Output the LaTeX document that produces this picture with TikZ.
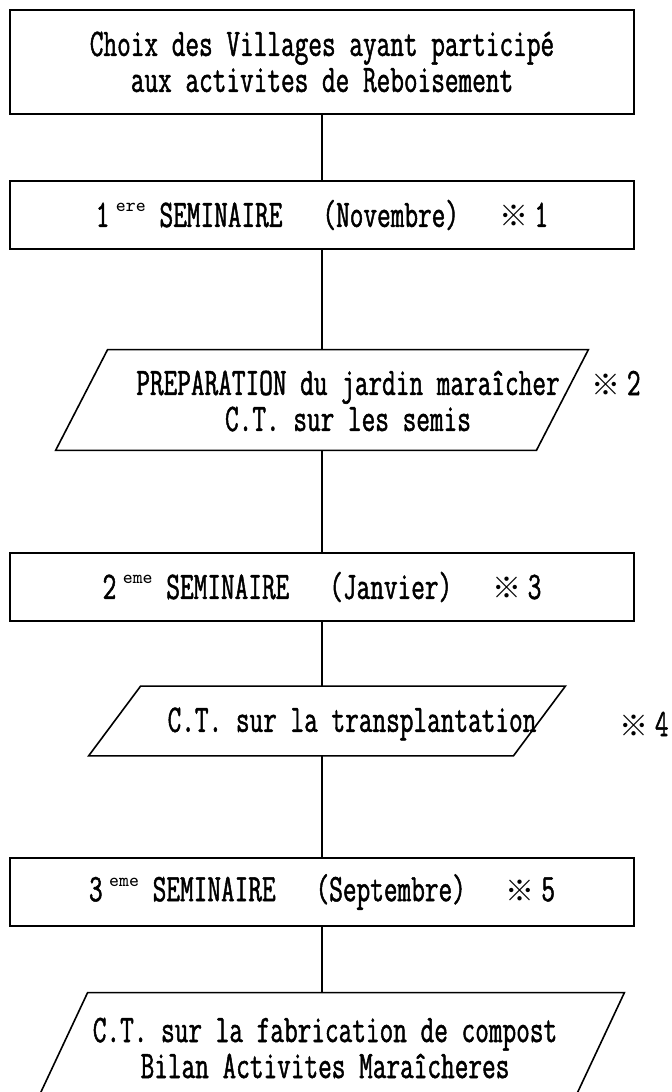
\documentclass[tikz,border=0pt]{standalone}
\usepackage{fontspec}
\newfontfamily\mono[FakeStretch=0.68,FakeBold=1.2]{Latin Modern Mono}
\newfontfamily\supmono{Latin Modern Mono}
\newfontfamily\cjk{Noto Sans CJK JP}
\usetikzlibrary{calc}
\newcommand{\ordsup}[1]{\,\raisebox{0.9ex}{\supmono\fontsize{9.5}{9.5}\selectfont #1}}
\newcommand{\refmark}[1]{{\cjk\fontsize{14.5}{14.5}\selectfont ※}\,#1}

\begin{document}
\begin{tikzpicture}[x=0.5pt,y=-0.5pt,
    every node/.style={font=\mono\fontsize{19.5}{18}\selectfont},
    box/.style={draw, line width=1.4pt, minimum width=312pt, minimum height=34pt, inner sep=0pt},
    para/.style={inner sep=0pt},
    txt/.style={align=center, inner sep=0pt},
    link/.style={line width=1.2pt}]
      \useasboundingbox (0,0) rectangle (672,1092);
      \clip (0,0) rectangle (672,1092);

      % steps
      \node[box, minimum height=52pt, align=center] (choix) at (322,62) {Choix des Villages ayant participé\\aux activites de Reboisement};
      \node[box] (sem1) at (322,215) {1\ordsup{ere} SEMINAIRE\hspace{20pt}(Novembre)\hspace{20pt}\refmark{1}};
      \node[para, minimum width=240pt, minimum height=50pt] (prep) at (322,400) {};
      \node[txt] (preptxt) at (348,401) {PREPARATION du jardin maraîcher\\C.T. sur les semis};
      \node (note2) at (616,383) {\refmark{2}};
      \node[box] (sem2) at (322,587) {2\ordsup{eme} SEMINAIRE\hspace{20pt}(Janvier)\hspace{20pt}\refmark{3}};
      \node[para, minimum width=212pt, minimum height=34.5pt] (transp) at (327,721) {};
      \node[txt] (transptxt) at (352,724) {C.T. sur la transplantation};
      \node (note4) at (644,724) {\refmark{4}};
      \node[box] (sem3) at (322,892) {3\ordsup{eme} SEMINAIRE\hspace{20pt}(Septembre)\hspace{20pt}\refmark{5}};
      \node[para, minimum width=268pt, minimum height=55pt] (compost) at (330,1048) {};
      \node[txt] (composttxt) at (325,1048) {C.T. sur la fabrication de compost\\Bilan Activites Maraîcheres};

      % parallelograms
      \foreach \p in {prep,transp,compost}
        \draw[line width=0.8pt] ([xshift=13pt]\p.north west) -- ([xshift=13pt]\p.north east) -- ([xshift=-13pt]\p.south east) -- ([xshift=-13pt]\p.south west) -- cycle;

      % links
      \draw[link] (choix) -- (sem1);
      \draw[link] (sem1) -- (prep);
      \draw[link] (prep) -- (sem2);
      \draw[link] (sem2.south) -- (sem2.south |- transp.north);
      \draw[link] (transp.south -| sem3) -- (sem3);
      \draw[link] (sem3.south) -- (sem3.south |- compost.north);
\end{tikzpicture}
\end{document}
